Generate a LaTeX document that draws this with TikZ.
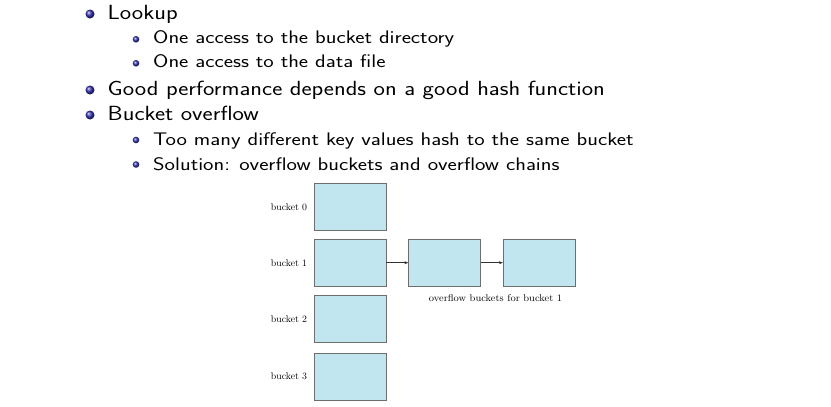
\documentclass[tikz,border=0pt]{standalone}
\usepackage{graphicx}
\usetikzlibrary{arrows.meta,positioning}
\definecolor{bfill}{RGB}{194,230,240}
\definecolor{bdraw}{RGB}{110,110,110}
\definecolor{ballc}{RGB}{51,51,179}
\newcommand{\mlx}[1]{\scalebox{1.178}[1]{#1}}
\newcommand{\slx}[1]{\scalebox{1.215}[1]{#1}}
\newcommand{\olx}[1]{\scalebox{1.07}[1]{#1}}
\tikzset{
  mainball/.style={circle,inner sep=0pt,minimum size=9pt,shading=ball,ball color=ballc},
  subball/.style={circle,inner sep=0pt,minimum size=6.6pt,shading=ball,ball color=ballc},
  maintxt/.style={anchor=base west,inner sep=0pt,font=\fontsize{20.5}{24}\sffamily},
  subtxt/.style={anchor=base west,inner sep=0pt,font=\fontsize{18.2}{21}\sffamily},
  bucketbox/.style={draw=bdraw,fill=bfill,line width=0.8pt,minimum width=72pt,minimum height=47pt,inner sep=0pt},
  blabel/.style={anchor=east,inner sep=0pt,font=\fontsize{9.8}{11}\selectfont},
  chain/.style={draw=black!80,line width=0.5pt,-{Stealth[length=4pt,width=3pt]}}
}
\begin{document}
\begin{tikzpicture}[x=1pt,y=-1pt]
\useasboundingbox (0,0) rectangle (831,407);
% bullets
\node[mainball] (b1) at (90,14) {};
\node[maintxt] (t1) at (107.5,19.3) {\mlx{Lookup}};
\node[subball] (b11) at (136,39.3) {};
\node[subtxt] (t11) at (153,43.5) {\slx{One access to the bucket directory}};
\node[subball] (b12) at (136,63.3) {};
\node[subtxt] (t12) at (153,67.5) {\slx{One access to the data file}};
\node[mainball] (b2) at (90,90) {};
\node[maintxt] (t2) at (107.5,95) {\mlx{Good performance depends on a good hash function}};
\node[mainball] (b3) at (90,115) {};
\node[maintxt] (t3) at (107.5,120) {\mlx{Bucket overflow}};
\node[subball] (b31) at (136,140) {};
\node[subtxt] (t31) at (153,145) {\slx{Too many different key values hash to the same bucket}};
\node[subball] (b32) at (136,164.5) {};
\node[subtxt] (t32) at (153,170) {\slx{Solution: overflow buckets and overflow chains}};
% buckets
\node[bucketbox] (k0) at (350,206.8) {};
\node[bucketbox] (k1) at (350,262.7) {};
\node[bucketbox] (k2) at (350,319.2) {};
\node[bucketbox] (k3) at (350,376.6) {};
\node[bucketbox] (o1) at (444.7,262.7) {};
\node[bucketbox] (o2) at (539.3,262.7) {};
\node[blabel] (l0) at (307.3,206.8) {bucket 0};
\node[blabel] (l1) at (307.3,262.7) {bucket 1};
\node[blabel] (l2) at (307.3,319.2) {bucket 2};
\node[blabel] (l3) at (307.3,376.6) {bucket 3};
\node[inner sep=0pt,font=\fontsize{9.8}{11}\selectfont] (ol) at (495.5,298.5) {\olx{overflow buckets for bucket 1}};
\draw[chain] (k1.east) -- (o1.west);
\draw[chain] (o1.east) -- (o2.west);
\end{tikzpicture}
\end{document}
